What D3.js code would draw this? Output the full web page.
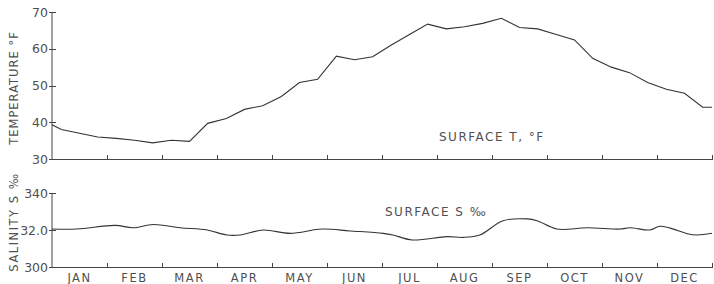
<!DOCTYPE html>
<html lang="en">
<head>
<meta charset="utf-8">
<script src="https://d3js.org/d3.v7.min.js"></script>
<style type="text/css">
body { margin: 0; background: #fff; }
text { font-family: "DejaVu Sans", sans-serif; fill: #505050; }
.axis path, .axis line { fill: none; stroke: #444; stroke-width: 1; shape-rendering: crispEdges; }
.line { fill: none; stroke: #333; stroke-width: 1.1; }
</style>
</head>
<body>
<script type="text/javascript">
var months = ["JAN","FEB","MAR","APR","MAY","JUN","JUL","AUG","SEP","OCT","NOV","DEC"];

// temperature, x in months from 1 Jan
var tempMonth = [0, 0.17, 0.5, 0.83, 1.17, 1.5, 1.83, 2.17, 2.5, 2.83, 3.17, 3.5, 3.83, 4.17, 4.5, 4.83,
  5.17, 5.5, 5.83, 6.17, 6.5, 6.83, 7.17, 7.5, 7.83, 8.17, 8.5, 8.83, 9.17, 9.5, 9.83,
  10.17, 10.5, 10.83, 11.17, 11.5, 11.83, 12];
var tempF = [39.3, 38.0, 37.0, 36.0, 35.6, 35.1, 34.4, 35.1, 34.8, 39.7, 41.0, 43.5, 44.5, 47.0, 50.8, 51.7,
  58.0, 57.0, 57.8, 61.0, 63.9, 66.7, 65.4, 66.0, 66.9, 68.3, 65.8, 65.4, 63.9, 62.4, 57.4,
  55.0, 53.5, 50.8, 49.0, 47.9, 44.1, 44.1];

// salinity
var salMonth = [0, 0.45, 1.15, 1.47, 1.84, 2.33, 2.82, 3.18, 3.42, 3.84, 4.33, 4.91, 5.42, 6.02, 6.2, 6.55,
  7.18, 7.47, 7.78, 8.2, 8.64, 8.82, 9.18, 9.73, 10.33, 10.51, 10.87, 11.05, 11.24, 11.55, 11.73, 12];
var salinity = [32.05, 32.05, 32.25, 32.12, 32.3, 32.12, 32.0, 31.73, 31.73, 32.0, 31.82, 32.05, 31.95, 31.82, 31.73, 31.46,
  31.64, 31.6, 31.73, 32.5, 32.6, 32.5, 32.05, 32.12, 32.05, 32.12, 32.0, 32.2, 32.1, 31.8, 31.73, 31.82];

var tempTicks = [30, 40, 50, 60, 70];
var salTicks = [30, 32, 34];
var salTickLabels = ["300", "32.0", "340"];

var width = 714, height = 284;
var svg = d3.select("body").append("svg")
    .attr("width", width)
    .attr("height", height);

var x = d3.scaleLinear().domain([0, 12]).range([52, 712]);
var yT = d3.scaleLinear().domain([30, 70]).range([159, 12]);
var yS = d3.scaleLinear().domain([30, 34]).range([267, 193]);

function xAxis(g) {
  g.call(d3.axisBottom(x).tickValues(d3.range(1, 13)).tickSizeInner(-4).tickSizeOuter(0).tickFormat(""));
}
function fixY(g) {
  g.selectAll(".tick line").attr("x1", -3).attr("x2", 4);
  g.selectAll(".tick text").attr("x", -4).style("font-size", "12.5px");
  g.select(".domain").remove();
}

// top panel
svg.append("g").attr("class", "axis")
  .attr("transform", "translate(0,159)")
  .call(xAxis);
svg.append("g").attr("class", "axis")
  .attr("transform", "translate(52,0)")
  .call(d3.axisLeft(yT).tickValues(tempTicks).tickFormat(d3.format("d")))
  .call(fixY);
svg.append("line").attr("class", "axis")
  .attr("x1", 52).attr("x2", 52).attr("y1", yT(70)).attr("y2", yT(30))
  .style("stroke", "#444");

// bottom panel
svg.append("g").attr("class", "axis")
  .attr("transform", "translate(0,267)")
  .call(xAxis);
svg.append("g").attr("class", "axis")
  .attr("transform", "translate(52,0)")
  .call(d3.axisLeft(yS).tickValues(salTicks).tickFormat(function(d, i) { return salTickLabels[i]; }))
  .call(fixY);
svg.append("line")
  .attr("x1", 52).attr("x2", 52).attr("y1", yS(34)).attr("y2", yS(30))
  .style("stroke", "#444");

svg.selectAll(".axis text").style("fill", "#505050");

// month labels
svg.append("g").selectAll("text")
  .data(months).enter()
  .append("text")
    .attr("x", function(d, i) { return x(i + 0.5); })
    .attr("y", 282)
    .attr("text-anchor", "middle")
    .style("font-size", "11.5px")
    .style("letter-spacing", "1.5px")
    .text(function(d) { return d; });

var tData = tempMonth.map(function(m, i) { return [m, tempF[i]]; });
var sData = salMonth.map(function(m, i) { return [m, salinity[i]]; });

svg.append("path").attr("class", "line")
  .attr("d", d3.line().x(function(d) { return x(d[0]); }).y(function(d) { return yT(d[1]); })(tData));

svg.append("path").attr("class", "line")
  .attr("d", d3.line().curve(d3.curveCatmullRom).x(function(d) { return x(d[0]); }).y(function(d) { return yS(d[1]); })(sData));

// titles
svg.append("text")
  .attr("transform", "translate(18,88) rotate(-90)")
  .attr("text-anchor", "middle")
  .style("font-size", "11.5px")
  .style("letter-spacing", "1px")
  .text("TEMPERATURE  °F");
svg.append("text")
  .attr("transform", "translate(18,222) rotate(-90)")
  .attr("text-anchor", "middle")
  .style("font-size", "11.5px")
  .style("letter-spacing", "1.5px")
  .text("SALINITY  S ‰");

svg.append("text")
  .attr("x", 439).attr("y", 141)
  .style("font-size", "12px")
  .style("letter-spacing", "1.5px")
  .text("SURFACE  T, °F");
svg.append("text")
  .attr("x", 385).attr("y", 216)
  .style("font-size", "12px")
  .style("letter-spacing", "1.5px")
  .text("SURFACE  S ‰");
</script>
</body>
</html>
